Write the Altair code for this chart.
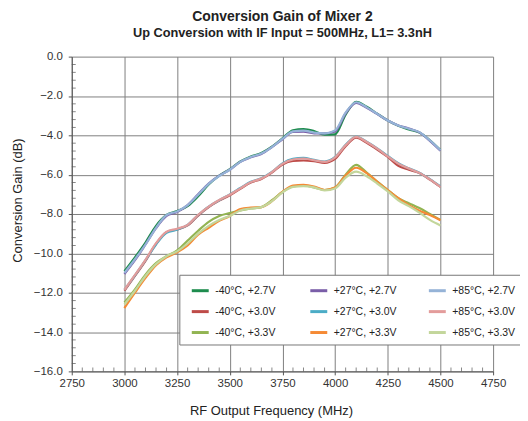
import altair as alt
import pandas as pd

freq = [3000, 3050, 3100, 3150, 3200, 3250, 3300, 3350, 3400, 3450, 3500, 3550, 3600, 3650, 3700,
        3750, 3800, 3850, 3900, 3950, 4000, 4050, 4100, 4150, 4200, 4250, 4300, 4350, 4400, 4450, 4500]

m40_27 = [-10.9, -10.2, -9.45, -8.6, -8.05, -7.85, -7.6, -7.1, -6.5, -6.05, -5.72, -5.33, -5.08, -4.9, -4.58,
          -4.15, -3.75, -3.68, -3.78, -3.97, -3.95, -2.95, -2.3, -2.55, -2.9, -3.25, -3.52, -3.7, -3.86, -4.25, -4.75]
m40_30 = [-11.9, -11.15, -10.38, -9.52, -8.92, -8.78, -8.58, -8.08, -7.65, -7.32, -7.05, -6.72, -6.4, -6.22, -5.9,
          -5.48, -5.3, -5.28, -5.32, -5.4, -5.2, -4.55, -4.12, -4.38, -4.72, -5.1, -5.55, -5.75, -5.92, -6.25, -6.62]
m40_33 = [-12.5, -11.83, -11.08, -10.5, -10.15, -9.85, -9.35, -8.85, -8.4, -8.1, -7.95, -7.82, -7.72, -7.65, -7.3,
          -6.88, -6.6, -6.55, -6.65, -6.78, -6.65, -6.0, -5.5, -5.9, -6.35, -6.78, -7.2, -7.45, -7.7, -8.0, -8.3]
p27_27 = [-11.05, -10.35, -9.55, -8.72, -8.1, -7.9, -7.55, -7.0, -6.45, -6.05, -5.75, -5.35, -5.12, -4.95, -4.6,
          -4.2, -3.83, -3.82, -3.9, -3.9, -3.8, -2.88, -2.35, -2.6, -2.92, -3.25, -3.5, -3.65, -3.85, -4.28, -4.78]
p27_30 = [-11.85, -11.12, -10.35, -9.55, -8.95, -8.8, -8.55, -8.05, -7.62, -7.3, -7.0, -6.68, -6.36, -6.18, -5.86,
          -5.43, -5.2, -5.15, -5.25, -5.33, -5.1, -4.48, -4.06, -4.32, -4.66, -5.05, -5.42, -5.68, -5.9, -6.23, -6.6]
p27_33 = [-12.78, -12.0, -11.25, -10.6, -10.2, -9.95, -9.6, -9.05, -8.7, -8.35, -8.1, -7.75, -7.68, -7.65, -7.35,
          -6.87, -6.55, -6.52, -6.6, -6.78, -6.65, -6.05, -5.65, -5.92, -6.36, -6.78, -7.2, -7.55, -7.83, -8.05, -8.32]
p85_27 = [-11.0, -10.3, -9.55, -8.7, -8.05, -7.87, -7.55, -7.02, -6.47, -6.07, -5.75, -5.35, -5.1, -4.93, -4.6,
          -4.18, -3.8, -3.76, -3.86, -3.9, -3.75, -2.85, -2.32, -2.58, -2.91, -3.25, -3.5, -3.67, -3.84, -4.26, -4.76]
p85_30 = [-11.85, -11.1, -10.33, -9.48, -8.9, -8.75, -8.55, -8.04, -7.62, -7.29, -7.02, -6.7, -6.38, -6.2, -5.87,
          -5.45, -5.23, -5.18, -5.27, -5.35, -5.12, -4.5, -4.08, -4.34, -4.68, -5.07, -5.44, -5.69, -5.91, -6.24, -6.62]
p85_33 = [-12.6, -11.9, -11.15, -10.55, -10.15, -9.9, -9.5, -9.0, -8.6, -8.3, -8.1, -7.82, -7.72, -7.65, -7.35,
          -6.9, -6.62, -6.58, -6.65, -6.8, -6.7, -6.15, -5.85, -6.08, -6.45, -6.85, -7.3, -7.6, -7.93, -8.3, -8.58]

names = ["-40°C, +2.7V", "-40°C, +3.0V", "-40°C, +3.3V",
         "+27°C, +2.7V", "+27°C, +3.0V", "+27°C, +3.3V",
         "+85°C, +2.7V", "+85°C, +3.0V", "+85°C, +3.3V"]
series = [m40_27, m40_30, m40_33, p27_27, p27_30, p27_33, p85_27, p85_30, p85_33]
colors = ["#1E8C4E", "#BE4B48", "#92B452",
          "#7A5EA8", "#4BACC6", "#F58A35",
          "#95B3D7", "#E39C9B", "#C3D69B"]

y_ticks = [0, -2, -4, -6, -8, -10, -12, -14, -16]
x_ticks = [2750, 3000, 3250, 3500, 3750, 4000, 4250, 4500, 4750]
y_minor = [round(-0.4 * i, 1) for i in range(41) if i % 5 != 0]
x_minor = [2750 + 50 * i for i in range(41) if i % 5 != 0]

rows = []
for k, (n, vals) in enumerate(zip(names, series)):
    for f, v in zip(freq, vals):
        rows.append({"freq": f, "gain": v, "series": n, "ord": k})
df = pd.DataFrame(rows)

W, H = 423, 316
FONT = "Liberation Sans"

xscale = alt.Scale(domain=[2750, 4750], nice=False, zero=False)
yscale = alt.Scale(domain=[-16, 0], nice=False, zero=False)

xaxis = alt.Axis(values=x_ticks, format="d", title="RF Output Frequency (MHz)",
                 titleFontSize=13, titleFontWeight="normal", titlePadding=15, titleX=200,
                 labelFontSize=11.5, labelPadding=3, tickSize=3.5, labelFlush=False)
yaxis = alt.Axis(values=y_ticks, format=".1f", title="Conversion Gain (dB)",
                 titleFontSize=13, titleFontWeight="normal", titlePadding=9, titleY=144,
                 labelFontSize=11.5, labelPadding=6, tickSize=3.5)

lines = alt.Chart(df).mark_line(interpolate="monotone", strokeWidth=2.2).encode(
    x=alt.X("freq:Q", scale=xscale, axis=xaxis),
    y=alt.Y("gain:Q", scale=yscale, axis=yaxis),
    color=alt.Color("series:N", scale=alt.Scale(domain=names, range=colors),
                    legend=alt.Legend(title=None, orient="none", legendX=108, legendY=219,
                                      columns=3, symbolType="M-1,0H1", symbolStrokeWidth=3,
                                      symbolSize=289, symbolOffset=5, labelFontSize=10.5,
                                      labelOffset=5, rowPadding=5, columnPadding=25,
                                      gridAlign="all", padding=6, fillColor="white",
                                      strokeColor="#777", labelColor="#222")),
    detail="ord:O",
    order="ord:O",
)

ymin = alt.Chart(pd.DataFrame({"v": y_minor})).mark_tick(
    orient="horizontal", size=4, thickness=1, color="#555").encode(
    y=alt.Y("v:Q", scale=yscale, axis=yaxis), x=alt.value(2))
xmin = alt.Chart(pd.DataFrame({"v": x_minor})).mark_tick(
    orient="vertical", size=4, thickness=1, color="#555").encode(
    x=alt.X("v:Q", scale=xscale, axis=xaxis), y=alt.value(H - 2))

chart = alt.layer(lines, xmin, ymin).properties(
    width=W, height=H,
    autosize=alt.AutoSizeParams(type="none"),
    padding={"left": 64, "top": 48, "right": 27, "bottom": 48},
    title=alt.TitleParams(text="Conversion Gain of Mixer 2",
                          subtitle="Up Conversion with IF Input = 500MHz, L1= 3.3nH",
                          fontSize=14, subtitleFontSize=12.8, fontWeight="bold",
                          subtitleFontWeight="bold", color="#222", subtitleColor="#222",
                          anchor="middle", offset=11, subtitlePadding=3, font=FONT, subtitleFont=FONT),
).configure_view(stroke=None).configure_axis(
    gridColor="#7f7f7f", gridWidth=1, gridOpacity=1, domainColor="#555", tickColor="#555",
    labelColor="#333", titleColor="#222", labelFont=FONT, titleFont=FONT,
).configure_legend(labelFont=FONT)

chart.save("out.html", embed_options={"renderer": "svg", "actions": False})
